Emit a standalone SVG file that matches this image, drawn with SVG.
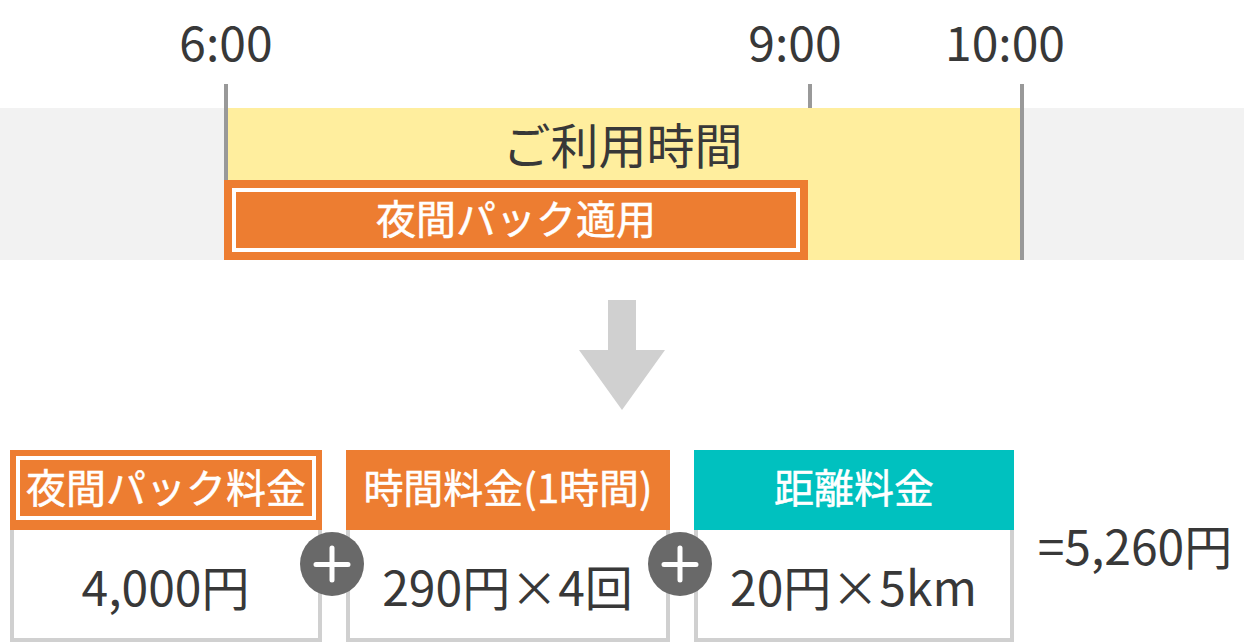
<svg xmlns="http://www.w3.org/2000/svg" width="1244" height="642" viewBox="0 0 1244 642">
<style>
text{font-family:"Noto Sans CJK JP","Noto Sans",sans-serif;text-anchor:middle;fill:#383838}
.t{font-size:48px}
.w{fill:#fff;font-size:40px;stroke:#fff;stroke-width:.5}
.v{font-size:48px}
.tick{fill:#999}
.or{fill:#ed7d31}
.in{fill:none;stroke:#fff;stroke-width:4}
.body{fill:#fff;stroke:#d0d0d0;stroke-width:4}
.plus{fill:#696969}
.pl{stroke:#fff;stroke-width:5;stroke-linecap:round}
</style>
<g id="band">
<rect x="0" y="108" width="1244" height="152" fill="#f2f2f2"/>
<rect x="228" y="108" width="792" height="152" fill="#ffee9e"/>
<text x="622.5" y="164" class="t">ご利用時間</text>
</g>
<g id="ticks">
<rect class="tick" x="224" y="84" width="4" height="100"/>
<rect class="tick" x="808" y="84" width="4" height="24"/>
<rect class="tick" x="1020" y="84" width="4" height="176"/>
<text x="226" y="61" class="t">6:00</text>
<text x="795" y="61" class="t">9:00</text>
<text x="1005" y="61" class="t">10:00</text>
</g>
<g id="night-pack">
<rect class="or" x="224" y="180" width="584" height="80"/>
<rect class="in" x="234" y="190" width="564" height="60"/>
<text x="516" y="234" class="w">夜間パック適用</text>
</g>
<g id="connectors">
<path d="M608 300H636V350H665L622 410L579 350H608Z" fill="#d0d0d0"/>
</g>
<g id="box1">
<rect class="body" x="12" y="500" width="308" height="140"/>
<rect class="or" x="10" y="450" width="312" height="80"/>
<rect class="in" x="18" y="458" width="296" height="60"/>
<text x="166" y="503" class="w">夜間パック料金</text>
<text x="165.5" y="606" class="v">4,000円</text>
</g>
<g id="box2">
<rect class="body" x="348" y="500" width="320" height="140"/>
<rect class="or" x="346" y="450" width="324" height="80"/>
<text x="508" y="503" class="w">時間料金(1時間)</text>
<text x="507.5" y="606" class="v">290円×4回</text>
</g>
<g id="box3">
<rect class="body" x="696" y="500" width="316" height="140"/>
<rect x="694" y="450" width="320" height="80" fill="#00c1bf"/>
<text x="854" y="503" class="w">距離料金</text>
<text x="853.5" y="606" class="v">20円×5km</text>
</g>
<g id="plus1">
<circle class="plus" cx="332" cy="564" r="32"/>
<path class="pl" d="M316 564.5H348M332 548V580"/>
</g>
<g id="plus2">
<circle class="plus" cx="680" cy="564" r="32"/>
<path class="pl" d="M664 564.5H696M680 548V580"/>
</g>
<g id="total">
<text x="1135" y="565" class="v">=5,260円</text>
</g>
</svg>
